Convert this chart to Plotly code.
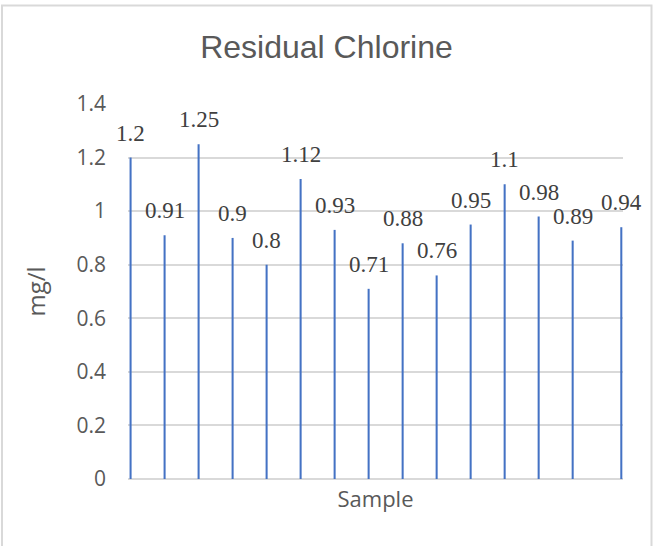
import plotly.graph_objects as go

# Residual chlorine readings per sample (mg/l)
sample_pos = [1, 2, 3, 4, 5, 6, 7, 8, 9, 10, 11, 12, 13, 14, 15.43]
chlorine = [1.2, 0.91, 1.25, 0.9, 0.8, 1.12, 0.93, 0.71, 0.88, 0.76,
            0.95, 1.1, 0.98, 0.89, 0.94]

W, H = 653, 546
M_L, M_R, M_T, M_B = 128, 30, 104, 67

BAR_BLUE = "#4472C4"
GRID = "#d9d9d9"
TXT = "#595959"

fig = go.Figure()
fig.add_trace(go.Bar(
    x=sample_pos,
    y=chlorine,
    width=0.06,
    marker=dict(color=BAR_BLUE, line=dict(width=0)),
    hoverinfo="x+y",
))

# value labels above each bar
for xv, yv in zip(sample_pos, chlorine):
    fig.add_annotation(
        x=xv, y=yv, text=str(yv), showarrow=False,
        xanchor="center", yanchor="bottom", yshift=10,
        font=dict(family="Liberation Serif, Times New Roman, serif",
                  size=23, color="#404040"),
    )

# thin frame around the whole chart
pw = W - M_L - M_R
ph = H - M_T - M_B
def px2x(p):
    return (p - M_L) / pw
def py2y(p):
    return (H - M_B - p) / ph
fig.add_shape(type="rect", xref="paper", yref="paper",
              x0=px2x(2), x1=px2x(651.5), y0=py2y(560), y1=py2y(5.5),
              line=dict(color=GRID, width=2), fillcolor="rgba(0,0,0,0)",
              layer="below")

fig.update_layout(
    width=W, height=H,
    margin=dict(l=M_L, r=M_R, t=M_T, b=M_B, pad=0),
    paper_bgcolor="white",
    plot_bgcolor="white",
    showlegend=False,
    title=dict(
        text="Residual Chlorine",
        x=0.5, xref="container", xanchor="center",
        y=(H - 47) / H, yref="container", yanchor="middle",
        font=dict(family="Liberation Sans, Arial, sans-serif", size=32, color=TXT),
    ),
    xaxis=dict(
        range=[0.924, 15.48],
        showgrid=False, zeroline=False, showline=False,
        showticklabels=False, ticks="",
        title=dict(text="Sample", standoff=12,
                   font=dict(family="Open Sans, sans-serif", size=22, color=TXT)),
    ),
    yaxis=dict(
        range=[0, 1.4], dtick=0.2, tick0=0,
        showgrid=True, gridcolor=GRID, gridwidth=1.5,
        zeroline=True, zerolinecolor=GRID, zerolinewidth=1.5,
        showline=False, ticks="",
        ticklabelstandoff=21,
        tickfont=dict(family="Open Sans, sans-serif", size=21, color=TXT),
        title=dict(text="mg/l", standoff=24,
                   font=dict(family="Open Sans, sans-serif", size=24, color=TXT)),
    ),
)

fig.write_html("out.html")
